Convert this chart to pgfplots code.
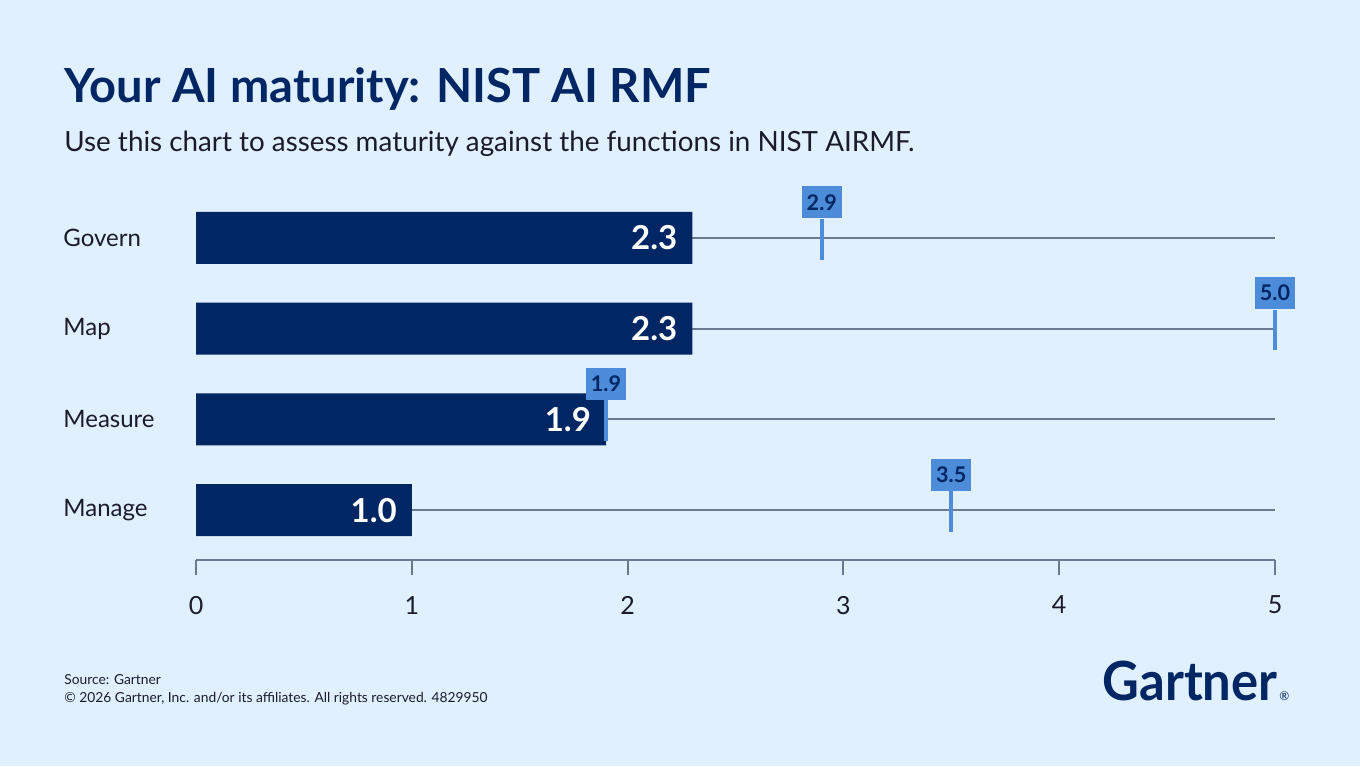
\documentclass[border=0pt]{standalone}
\usepackage{pgfplots}
\pgfplotsset{compat=1.18}
\usepackage{pgfplotstable}
\usepackage{fontspec}
\setmainfont{Lato}

\definecolor{bg}{HTML}{E0F0FE}
\definecolor{navy}{HTML}{002663}
\definecolor{target}{HTML}{4C8CD8}
\definecolor{rule}{HTML}{6B7A93}
\definecolor{ink}{HTML}{1B1B2B}

% pos: row position (Govern at the top), current score, target score
\pgfplotstableread{
pos name current target
3 Govern 2.3 2.9
2 Map 2.3 5.0
1 Measure 1.9 1.9
0 Manage 1.0 3.5
}\maturity

\begin{document}
\begin{tikzpicture}[x=0.5pt,y=0.5pt]
\fill[bg] (0,0) rectangle (1360,766);
\useasboundingbox (0,0) rectangle (1360,766);

% headings
\node[anchor=base west, inner sep=0, text=navy, font=\bfseries\fontsize{23.5}{28}\selectfont] at (64,663) {Your AI maturity: NIST AI RMF};
\node[anchor=base west, inner sep=0, text=ink, font=\fontsize{13.9}{16}\selectfont] at (64,614) {Use this chart to assess maturity against the functions in NIST AIRMF.};

\begin{axis}[
  at={(98pt,103pt)}, anchor=south west,
  scale only axis, width=539.5pt, height=186pt,
  xmin=0, xmax=5, ymin=-0.55, ymax=3.55,
  clip=false,
  axis x line*=bottom, axis y line*=left,
  x axis line style={rule, line width=1pt, -},
  y axis line style={draw=none},
  xtick={0,1,2,3,4,5},
  xtick style={rule, line width=1pt},
  ytick style={draw=none},
  major tick length=7.5pt, tick align=outside,
  /pgf/number format/assume math mode=true,
  xticklabel style={text=ink, font=\fontsize{12.5}{15}\selectfont, yshift=-7pt},
  ytick={0,1,2,3},
  yticklabels={Manage,Measure,Map,Govern},
  yticklabel style={anchor=west, inner sep=0, xshift=-59pt, text=ink, font=\fontsize{12}{14}\selectfont},
]
% guide lines running to the top of the scale
\addplot[xcomb, rule, line width=1pt, mark=none] table[x expr=5, y=pos]{\maturity};

% current maturity
\addplot[xbar, bar width=26pt, fill=navy, draw=none,
  nodes near coords, point meta=x,
  every node near coord/.append style={anchor=east, xshift=-4pt, text=white,
    font=\bfseries\fontsize{16.5}{18}\selectfont,
    /pgf/number format/.cd, fixed, fixed zerofill, precision=1}]
  table[x=current, y=pos]{\maturity};

% target stems
\addplot[draw=none, mark=none,
  error bars/.cd, y dir=both, y explicit, error mark=none,
  error bar style={target, line width=2pt, solid}]
  table[x=target, y=pos, y error plus expr=0.21, y error minus expr=0.24]{\maturity};

% target flags
\addplot[draw=none, mark=none,
  nodes near coords, point meta=x,
  every node near coord/.append style={anchor=south, yshift=0pt, fill=target, text=navy,
    minimum width=20pt, minimum height=16pt, inner sep=0pt,
    font=\bfseries\fontsize{10.8}{12}\selectfont,
    /pgf/number format/.cd, fixed, fixed zerofill, precision=1}]
  table[x=target, y expr=\thisrow{pos}+0.21]{\maturity};
\end{axis}

% footer
\node[anchor=base west, inner sep=0, text=ink, font=\fontsize{6.9}{8}\selectfont] at (64,82) {Source: Gartner};
\node[anchor=base west, inner sep=0, text=ink, font=\fontsize{6.9}{8}\selectfont] at (64,64) {\textcopyright{} 2026 Gartner, Inc. and/or its affiliates. All rights reserved. 4829950};
\node[anchor=base east, inner sep=0, text=navy, font=\bfseries\fontsize{27}{30}\selectfont] at (1278,66) {\scalebox{0.94}[1]{Gartner}};
\node[anchor=base west, inner sep=0, text=navy, font=\fontsize{6}{7}\selectfont] at (1279,66) {\textregistered};
\end{tikzpicture}
\end{document}
